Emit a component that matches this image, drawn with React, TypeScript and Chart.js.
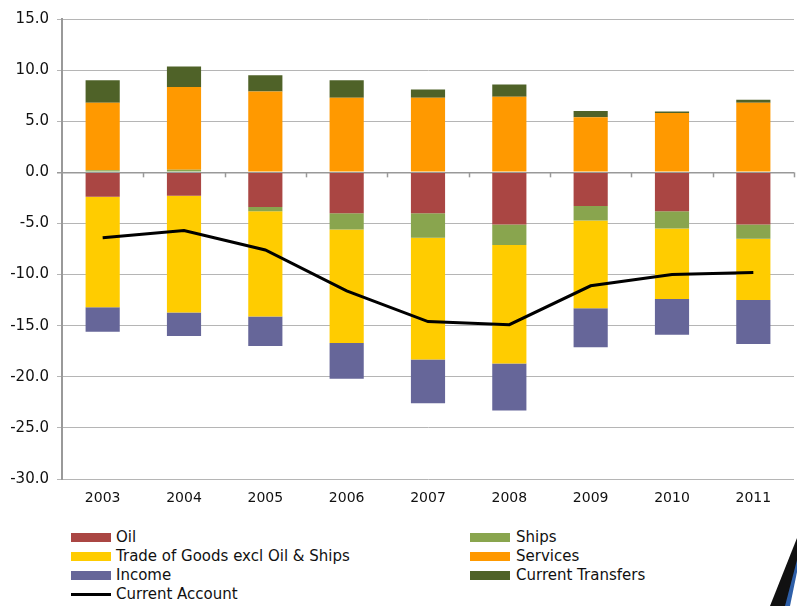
import React, { useEffect, useRef } from "react";
import { Chart, registerables } from "chart.js";

Chart.register(...registerables);

const years = ["2003", "2004", "2005", "2006", "2007", "2008", "2009", "2010", "2011"];
const oil = [-2.4, -2.3, -3.4, -4.0, -4.0, -5.1, -3.3, -3.8, -5.1];
const ships = [0.2, 0.25, -0.4, -1.6, -2.4, -2.0, -1.4, -1.7, -1.4];
const tradeGoods = [-10.8, -11.4, -10.3, -11.1, -11.9, -11.6, -8.6, -6.9, -6.0];
const services = [6.6, 8.1, 7.9, 7.3, 7.3, 7.4, 5.4, 5.8, 6.8];
const income = [-2.4, -2.3, -2.9, -3.5, -4.3, -4.6, -3.8, -3.5, -4.3];
const transfers = [2.2, 2.0, 1.6, 1.7, 0.8, 1.2, 0.6, 0.15, 0.3];
const currentAccount = [-6.4, -5.7, -7.6, -11.6, -14.6, -14.9, -11.1, -10.0, -9.8];
const yTicks = { min: -30, max: 15, step: 5 };

const COLORS = {
  oil: "#AA4643",
  ships: "#89A54E",
  trade: "#FFCC00",
  services: "#FF9900",
  income: "#666699",
  transfers: "#4F6228",
  ca: "#000000",
};

const legendItems = [
  { label: "Oil", color: COLORS.oil, col: 0, row: 0, line: false },
  { label: "Ships", color: COLORS.ships, col: 1, row: 0, line: false },
  { label: "Trade of Goods excl Oil & Ships", color: COLORS.trade, col: 0, row: 1, line: false },
  { label: "Services", color: COLORS.services, col: 1, row: 1, line: false },
  { label: "Income", color: COLORS.income, col: 0, row: 2, line: false },
  { label: "Current Transfers", color: COLORS.transfers, col: 1, row: 2, line: false },
  { label: "Current Account", color: COLORS.ca, col: 0, row: 3, line: true },
];

const zeroTicksPlugin = {
  id: "zeroTicks",
  afterDatasetsDraw(chart: any) {
    const x = chart.scales.x;
    const y = chart.scales.y;
    const ctx = chart.ctx;
    const y0 = y.getPixelForValue(0);
    ctx.save();
    ctx.strokeStyle = "#999999";
    ctx.lineWidth = 1.5;
    const n = chart.data.labels.length;
    for (let i = 1; i <= n; i++) {
      let px: number;
      if (i < n) px = (x.getPixelForTick(i - 1) + x.getPixelForTick(i)) / 2;
      else px = chart.chartArea.right;
      ctx.beginPath();
      ctx.moveTo(Math.round(px) + 0.5, y0);
      ctx.lineTo(Math.round(px) + 0.5, y0 + 5);
      ctx.stroke();
    }
    ctx.restore();
  },
};

export default function App() {
  const ref = useRef<HTMLCanvasElement | null>(null);

  useEffect(() => {
    if (!ref.current) return;
    const barDs = (label: string, data: number[], color: string) => ({
      type: "bar" as const,
      label,
      data,
      backgroundColor: color,
      borderWidth: 0,
      categoryPercentage: 1,
      barPercentage: 0.42,
      order: 2,
    });
    const chart = new Chart(ref.current, {
      type: "bar",
      data: {
        labels: years,
        datasets: [
          barDs("Oil", oil, COLORS.oil),
          barDs("Ships", ships, COLORS.ships),
          barDs("Trade of Goods excl Oil & Ships", tradeGoods, COLORS.trade),
          barDs("Services", services, COLORS.services),
          barDs("Income", income, COLORS.income),
          barDs("Current Transfers", transfers, COLORS.transfers),
          {
            type: "line" as const,
            label: "Current Account",
            data: currentAccount,
            borderColor: COLORS.ca,
            backgroundColor: COLORS.ca,
            borderWidth: 3,
            pointRadius: 0,
            tension: 0,
            fill: false,
            stack: "ca",
            order: 0,
          } as any,
        ],
      },
      options: {
        animation: false,
        responsive: false,
        maintainAspectRatio: false,
        layout: { padding: { top: 19, right: 3, left: 0, bottom: 0 } },
        plugins: {
          legend: { display: false },
          tooltip: { enabled: false },
        },
        scales: {
          x: {
            stacked: true,
            grid: { display: false, drawTicks: false },
            border: { display: false },
            ticks: {
              color: "#111111",
              font: { family: "DejaVu Sans", size: 14 },
              padding: 11,
              maxRotation: 0,
            },
            afterFit: (s: any) => {
              s.height = 41;
            },
          },
          y: {
            stacked: true,
            min: yTicks.min,
            max: yTicks.max,
            ticks: {
              stepSize: yTicks.step,
              color: "#111111",
              font: { family: "DejaVu Sans", size: 15 },
              padding: 8,
              callback: (v: any) => Number(v).toFixed(1),
            },
            grid: {
              color: (c: any) => (c.tick && c.tick.value === 0 ? "#999999" : "#B5B5B5"),
              lineWidth: (c: any) => (c.tick && c.tick.value === 0 ? 1.5 : 1),
              tickLength: 5,
              drawTicks: true,
            },
            border: { display: true, color: "#999999", width: 2 },
            afterFit: (s: any) => {
              s.width = 62;
            },
          },
        },
      },
      plugins: [zeroTicksPlugin],
    });
    return () => chart.destroy();
  }, []);

  const rowY = [537, 556, 575, 594];
  const colBoxX = [71, 470];
  const colTextX = [116, 516];

  return (
    <div
      style={{
        position: "fixed",
        left: 0,
        top: 0,
        width: 797,
        height: 606,
        background: "#ffffff",
        overflow: "hidden",
      }}
    >
      <canvas ref={ref} width={797} height={520} style={{ position: "absolute", left: 0, top: 0, width: 797, height: 520 }} />
      {legendItems.map((it) => {
        const cy = rowY[it.row];
        return (
          <React.Fragment key={it.label}>
            <div
              style={{
                position: "absolute",
                left: colBoxX[it.col],
                top: it.line ? cy - 1.5 : cy - 4.5,
                width: 40,
                height: it.line ? 3 : 9,
                background: it.color,
              }}
            />
            <div
              style={{
                position: "absolute",
                left: colTextX[it.col],
                top: cy - 10,
                height: 20,
                lineHeight: "20px",
                fontFamily: "DejaVu Sans",
                fontSize: 15,
                color: "#111111",
                whiteSpace: "nowrap",
              }}
            >
              {it.label}
            </div>
          </React.Fragment>
        );
      })}
      <svg
        width={797}
        height={606}
        style={{ position: "absolute", left: 0, top: 0, pointerEvents: "none" }}
      >
        <polygon points="797,538 797,566 787,606 770,606" fill="#111111" />
        <polygon points="797,560 797,572 790,606 785,606" fill="#2E5FA8" />
      </svg>
    </div>
  );
}
